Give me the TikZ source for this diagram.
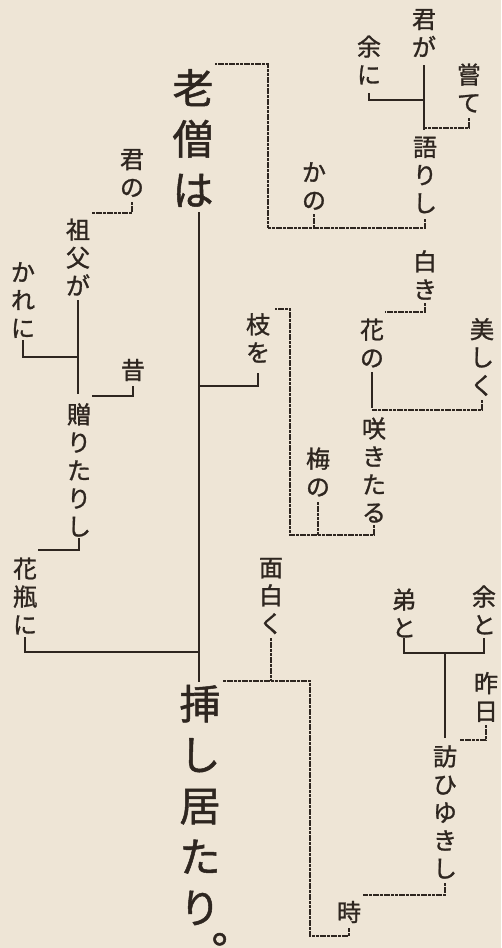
\documentclass[tikz,border=0pt]{standalone}
\usepackage{fontspec}
\newfontfamily\cjk[FakeBold=1.2]{Noto Sans CJK JP}
\definecolor{paper}{RGB}{238,229,214}
\definecolor{ink}{RGB}{46,38,32}
\tikzset{
  wd/.style={font=\cjk\fontsize{24}{28}\selectfont, align=center, inner sep=0pt, text=ink},
  bigwd/.style={font=\cjk\fontsize{41}{51}\selectfont, align=center, inner sep=0pt, text=ink},
  sl/.style={draw=ink, line width=2.2pt},
  dl/.style={draw=ink, line width=1.4pt, dash pattern=on 3pt off 0.7pt},
}
\begin{document}
\begin{tikzpicture}[x=1pt,y=-1pt]
\fill[paper] (0,0) rectangle (501,948);
\useasboundingbox (0,0) rectangle (501,948);
% words
\node[wd] (kimiga) at (424,33) {君\\が};
\node[wd] (yoni) at (369,60) {余\\に};
\node[wd] (katsute) at (469,88) {嘗\\て};
\node[wd] (katarishi) at (425,175) {語\\り\\し};
\node[wd] (kano) at (314,186) {か\\の};
\node[bigwd] (rousou) at (193,138) {老\\僧\\は};
\node[bigwd] (sashi) at (200,805) {挿\\し\\居\\た\\り};
\node[bigwd, anchor=base west] (maru) at (211,943) {\makebox[0pt][l]{\smash{。}}};
\node[wd] (kiminol) at (132,173) {君\\の};
\node[wd] (sofuga) at (78,257) {祖\\父\\が};
\node[wd] (kareni) at (23,300) {か\\れ\\に};
\node[wd] (mukashi) at (133,370) {昔};
\node[wd] (okuri) at (79,470) {贈\\り\\た\\り\\し};
\node[wd] (kabinni) at (25,596) {花\\瓶\\に};
\node[wd] (shiroki) at (425,275) {白\\き};
\node[wd] (hanano) at (372,343) {花\\の};
\node[wd] (utsukushiku) at (482,357) {美\\し\\く};
\node[wd] (sakitaru) at (374,470) {咲\\き\\た\\る};
\node[wd] (umeno) at (318,472) {梅\\の};
\node[wd] (edao) at (258,338) {枝\\を};
\node[wd] (omoshiroku) at (271,596) {面\\白\\く};
\node[wd] (otoutoto) at (404,613) {弟\\と};
\node[wd] (yoto) at (484,610) {余\\と};
\node[wd] (kinou) at (486,697) {昨\\日};
\node[wd] (otozure) at (445,812) {訪\\ひ\\ゆ\\き\\し};
\node[wd] (toki) at (349,912) {時};
% spine
\coordinate (spinetop) at (199,212);
\coordinate (spinebot) at (199,682);
\draw[sl] (spinetop) -- (spinebot);
% solid connectors
\draw[sl] (kimiga |- 0,65) -- (kimiga |- 0,130);
\draw[sl] (yoni |- 0,93) -- (yoni |- 0,100) -- (kimiga |- 0,100);
\draw[sl] (edao |- 0,373) -- (edao |- 0,386) -- (spinetop |- 0,386);
\draw[sl] (hanano |- 0,372) -- (hanano |- 0,408);
\draw[sl] (sofuga |- 0,300) -- (sofuga |- 0,394);
\draw[sl] (kareni |- 0,340) -- (kareni |- 0,357) -- (sofuga |- 0,357);
\draw[sl] (mukashi |- 0,386) -- (mukashi |- 0,396) -- (92,396);
\draw[sl] (okuri |- 0,538) -- (okuri |- 0,550) -- (38,550);
\draw[sl] (kabinni |- 0,637) -- (kabinni |- 0,652) -- (spinetop |- 0,652);
\draw[sl] (otoutoto |- 0,638) -- (otoutoto |- 0,653) -- (yoto |- 0,653) -- (yoto |- 0,638);
\draw[sl] (otozure |- 0,653) -- (otozure |- 0,738);
% dashed connectors
\draw[dl] (katsute |- 0,118) -- (katsute |- 0,128) -- (kimiga |- 0,128);
\draw[dl] (katarishi |- 0,219) -- (katarishi |- 0,228) -- (268,228) -- (268,64) -- (215,64);
\draw[dl] (kano |- 0,214) -- (kano |- 0,228);
\draw[dl] (shiroki |- 0,303) -- (shiroki |- 0,312) -- (385,312);
\draw[dl] (utsukushiku |- 0,400) -- (utsukushiku |- 0,410) -- (hanano |- 0,410);
\draw[dl] (sakitaru |- 0,525) -- (sakitaru |- 0,535) -- (290,535) -- (290,309) -- (275,309);
\draw[dl] (umeno |- 0,502) -- (umeno |- 0,535);
\draw[dl] (kiminol |- 0,202) -- (kiminol |- 0,213) -- (92,213);
\draw[dl] (omoshiroku |- 0,638) -- (omoshiroku |- 0,681);
\draw[dl] (223,681) -- (310,681) -- (310,936) -- (toki |- 0,936) -- (toki |- 0,928);
\draw[dl] (kinou |- 0,725) -- (kinou |- 0,740) -- (460,740);
\draw[dl] (otozure |- 0,883) -- (otozure |- 0,895) -- (363,895);
\end{tikzpicture}
\end{document}
